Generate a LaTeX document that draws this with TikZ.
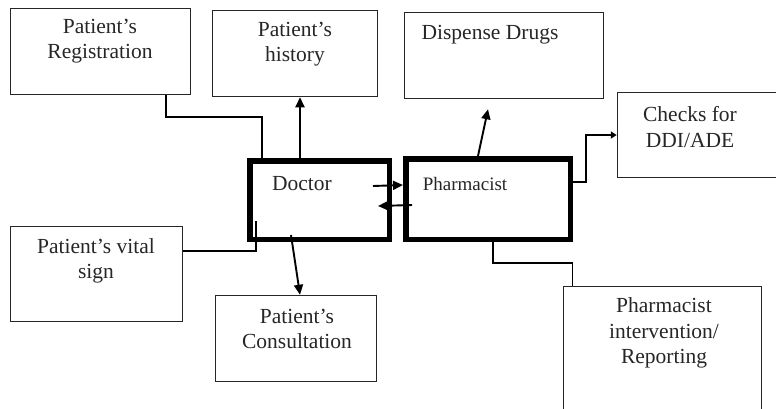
\documentclass[tikz,border=0pt]{standalone}
\usepackage{fontspec}
\setmainfont{Liberation Serif}
\usetikzlibrary{arrows.meta,positioning}
\begin{document}
\begin{tikzpicture}[x=1pt,y=-1pt,
    box/.style={draw=black!85,line width=1.5pt,inner sep=0pt},
    actor/.style={draw=black,line width=5.5pt,inner sep=0pt},
    txt/.style={align=center,inner sep=0pt,text=black!85,font=\fontsize{21.5}{25.5}\selectfont},
    conn/.style={line width=1.9pt},
    arr/.style={conn,-{Triangle[length=10pt,width=9pt]}}]
    \useasboundingbox (0,0) rectangle (776,408);

    \node[box,minimum width=180,minimum height=86] (reg) at (100.5,51.5) {};
    \node[box,minimum width=165,minimum height=86] (hist) at (295,53.5) {};
    \node[box,minimum width=199,minimum height=86] (disp) at (504,55.5) {};
    \node[box,minimum width=180,minimum height=85] (checks) at (707.5,135) {};
    \node[box,minimum width=172,minimum height=95] (vital) at (96.5,274) {};
    \node[box,minimum width=161,minimum height=86] (cons) at (296,338.5) {};
    \node[box,minimum width=198,minimum height=133] (interv) at (662.5,353) {};
    \node[actor,minimum width=139.5,minimum height=78.5] (doc) at (319.5,200) {};
    \node[actor,minimum width=164.5,minimum height=80.5] (pharm) at (488,199) {};

    \node[txt] (regT) at (100,41) {Patient’s\\Registration};
    \node[txt] (histT) at (295,44) {Patient’s\\history};
    \node[txt] (dispT) at (490,35) {Dispense Drugs};
    \node[txt] (checksT) at (690,127) {Checks for\\DDI/ADE};
    \node[txt] (docT) at (302,184) {Doctor};
    \node[txt,font=\fontsize{19}{22}\selectfont] (pharmT) at (465,184) {Pharmacist};
    \node[txt] (vitalT) at (96,261) {Patient’s vital\\sign};
    \node[txt] (consT) at (297,329) {Patient’s\\Consultation};
    \node[txt] (intervT) at (664,333) {Pharmacist\\intervention/\\Reporting};

    \draw[conn] ([xshift=65.5pt]reg.south) -- ++(0,22) -| ([xshift=-57.5pt]doc.north);
    \draw[arr] ([xshift=-19.5pt]doc.north) -- ([xshift=-19.5pt]doc.north |- hist.south);
    \draw[arr] ([xshift=-10pt]pharm.north) -- ([xshift=-16pt,yshift=-10pt]disp.south);
    \draw[conn,-{Triangle[length=6pt,width=7pt]}] ([yshift=17pt]pharm.east) -- ++(13,0) |- (checks.west);
    \draw[arr] ([xshift=-19pt,yshift=14pt]doc.east) -- ([yshift=14pt]pharm.west);
    \draw[arr] ([xshift=9pt,yshift=-6pt]pharm.west) -- ([xshift=-14pt,yshift=-6pt]doc.east);
    \draw[conn] ([yshift=23pt]vital.east) -| ([xshift=-63.5pt,yshift=21pt]doc.south);
    \draw[arr] ([xshift=-28.5pt,yshift=7pt]doc.south) -- ([xshift=4pt]cons.north);
    \draw[conn] ([xshift=5pt]pharm.south) -- ++(0,21) -| ([xshift=-90pt]interv.north);
  \end{tikzpicture}
\end{document}
